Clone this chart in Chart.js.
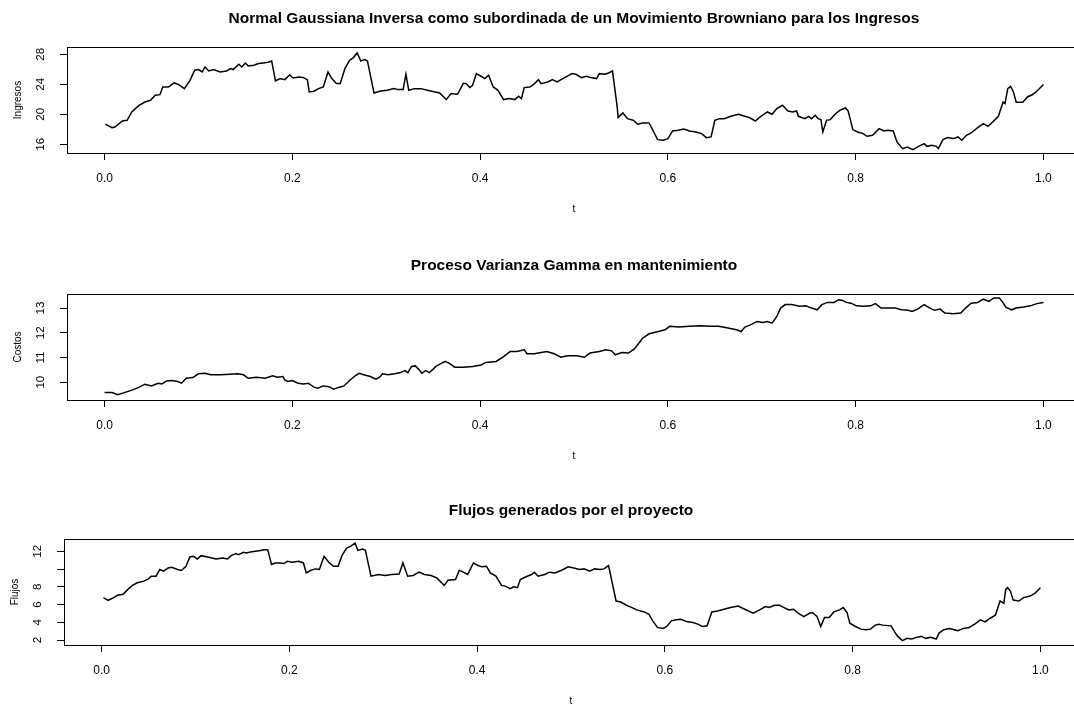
<!DOCTYPE html>
<html>
<head>
<meta charset="utf-8">
<script src="https://cdn.jsdelivr.net/npm/chart.js@4.4.1/dist/chart.umd.min.js"></script>
<style>
  html, body { margin: 0; padding: 0; background: #fff; }
  body { width: 1074px; height: 706px; overflow: hidden; position: relative; }
  canvas { position: absolute; }
</style>
</head>
<body>
<canvas id="ingresosChart" width="1090" height="246" style="left:0;top:0"></canvas>
<canvas id="costosChart" width="1090" height="246" style="left:0;top:247px"></canvas>
<canvas id="flujosChart" width="1090" height="246" style="left:-3px;top:492px"></canvas>
<script>
// eje t compartido
const xTicks = [0, 0.2, 0.4, 0.6, 0.8, 1.0];
const xTickLabels = ['0.0', '0.2', '0.4', '0.6', '0.8', '1.0'];

// Ingresos
const tIngresos = [
  0.001, 0.008, 0.011, 0.019, 0.024, 0.029, 0.036, 0.043, 0.049, 0.054,
  0.059, 0.062, 0.068, 0.074, 0.079, 0.085, 0.091, 0.096, 0.100, 0.104,
  0.107, 0.111, 0.116, 0.123, 0.130, 0.134, 0.137, 0.143, 0.146, 0.150,
  0.153, 0.159, 0.164, 0.169, 0.174, 0.178, 0.182, 0.187, 0.192, 0.197,
  0.201, 0.207, 0.212, 0.216, 0.218, 0.223, 0.228, 0.233, 0.238, 0.242,
  0.247, 0.251, 0.256, 0.261, 0.265, 0.269, 0.273, 0.277, 0.280, 0.287,
  0.294, 0.301, 0.308, 0.313, 0.318, 0.321, 0.324, 0.330, 0.337, 0.344,
  0.352, 0.357, 0.364, 0.369, 0.376, 0.382, 0.385, 0.389, 0.392, 0.396,
  0.401, 0.405, 0.409, 0.414, 0.419, 0.425, 0.431, 0.437, 0.441, 0.444,
  0.447, 0.453, 0.458, 0.462, 0.465, 0.472, 0.477, 0.482, 0.490, 0.498,
  0.502, 0.508, 0.513, 0.518, 0.524, 0.527, 0.533, 0.537, 0.541, 0.546,
  0.547, 0.552, 0.557, 0.563, 0.568, 0.573, 0.580, 0.584, 0.589, 0.595,
  0.600, 0.605, 0.611, 0.617, 0.623, 0.630, 0.636, 0.641, 0.646, 0.650,
  0.655, 0.660, 0.667, 0.675, 0.682, 0.687, 0.693, 0.699, 0.706, 0.711,
  0.716, 0.722, 0.728, 0.733, 0.737, 0.739, 0.746, 0.750, 0.753, 0.757,
  0.760, 0.763, 0.765, 0.769, 0.773, 0.778, 0.783, 0.789, 0.792, 0.797,
  0.802, 0.808, 0.812, 0.818, 0.825, 0.830, 0.834, 0.840, 0.844, 0.850,
  0.855, 0.861, 0.867, 0.873, 0.876, 0.881, 0.886, 0.888, 0.893, 0.898,
  0.904, 0.909, 0.913, 0.918, 0.923, 0.930, 0.936, 0.941, 0.946, 0.952,
  0.957, 0.959, 0.962, 0.965, 0.968, 0.971, 0.978, 0.983, 0.989, 0.994,
  1.000,
];
const ingresos = [
  18.67, 18.22, 18.31, 19.11, 19.20, 20.31, 21.11, 21.64, 21.87, 22.53,
  22.62, 23.64, 23.64, 24.18, 23.96, 23.42, 24.53, 25.87, 25.96, 25.64,
  26.31, 25.78, 25.96, 25.64, 25.78, 26.09, 25.96, 26.67, 26.31, 26.84,
  26.44, 26.53, 26.76, 26.84, 26.93, 27.11, 24.44, 24.76, 24.62, 25.24,
  24.84, 24.98, 24.89, 24.62, 22.98, 23.07, 23.42, 23.64, 25.64, 24.76,
  24.09, 24.09, 26.09, 27.20, 27.56, 28.18, 27.11, 27.29, 27.11, 22.84,
  23.11, 23.20, 23.42, 23.29, 23.30, 25.33, 23.20, 23.42, 23.42, 23.20,
  22.98, 22.84, 21.96, 22.76, 22.67, 24.09, 24.09, 23.56, 23.87, 25.42,
  25.07, 24.76, 25.20, 23.64, 23.20, 21.96, 22.09, 21.96, 22.40, 22.09,
  23.56, 23.64, 24.09, 24.62, 24.09, 24.31, 24.62, 24.31, 24.89, 25.42,
  25.33, 24.89, 25.07, 24.89, 24.76, 25.42, 25.33, 25.51, 25.78, 20.98,
  19.56, 20.18, 19.42, 19.20, 18.67, 18.84, 18.84, 17.87, 16.62, 16.53,
  16.76, 17.78, 17.87, 18.04, 17.78, 17.64, 17.42, 16.89, 16.98, 19.20,
  19.42, 19.42, 19.73, 20.00, 19.73, 19.56, 19.11, 19.73, 20.31, 20.00,
  20.76, 21.20, 20.44, 20.31, 20.44, 19.73, 19.42, 19.73, 19.42, 19.87,
  19.42, 19.29, 17.64, 19.20, 19.29, 20.00, 20.53, 20.84, 20.44, 17.96,
  17.64, 17.42, 17.07, 17.20, 18.09, 17.78, 17.87, 17.78, 16.31, 15.42,
  15.64, 15.29, 15.73, 16.09, 15.73, 15.87, 15.73, 15.42, 16.62, 16.89,
  16.76, 16.98, 16.53, 17.20, 17.51, 18.22, 18.76, 18.40, 18.98, 19.73,
  21.64, 21.42, 23.42, 23.73, 22.98, 21.60, 21.60, 22.31, 22.67, 23.20,
  23.96,
];
const ingresosTicks = [16, 20, 24, 28];
const ingresosTickLabels = ['16', '20', '24', '28'];

// Costos (Varianza Gamma)
const tCostos = [
  0.000, 0.008, 0.014, 0.021, 0.030, 0.037, 0.043, 0.050, 0.057, 0.061,
  0.066, 0.072, 0.078, 0.082, 0.087, 0.094, 0.100, 0.107, 0.113, 0.124,
  0.133, 0.142, 0.148, 0.153, 0.162, 0.171, 0.179, 0.184, 0.190, 0.192,
  0.195, 0.200, 0.206, 0.212, 0.217, 0.223, 0.227, 0.233, 0.239, 0.244,
  0.250, 0.255, 0.261, 0.267, 0.271, 0.276, 0.283, 0.289, 0.293, 0.296,
  0.302, 0.309, 0.315, 0.320, 0.323, 0.327, 0.331, 0.335, 0.338, 0.342,
  0.346, 0.353, 0.359, 0.363, 0.368, 0.373, 0.382, 0.392, 0.401, 0.406,
  0.417, 0.425, 0.432, 0.439, 0.447, 0.450, 0.458, 0.462, 0.471, 0.479,
  0.486, 0.493, 0.503, 0.511, 0.517, 0.527, 0.534, 0.540, 0.544, 0.551,
  0.558, 0.564, 0.569, 0.573, 0.580, 0.590, 0.597, 0.602, 0.612, 0.623,
  0.634, 0.645, 0.654, 0.664, 0.673, 0.678, 0.682, 0.688, 0.695, 0.701,
  0.706, 0.711, 0.716, 0.720, 0.725, 0.732, 0.740, 0.747, 0.753, 0.759,
  0.764, 0.770, 0.777, 0.782, 0.786, 0.790, 0.795, 0.801, 0.808, 0.816,
  0.821, 0.827, 0.834, 0.842, 0.849, 0.856, 0.860, 0.866, 0.873, 0.879,
  0.884, 0.890, 0.895, 0.904, 0.912, 0.917, 0.923, 0.930, 0.936, 0.942,
  0.947, 0.953, 0.956, 0.960, 0.966, 0.971, 0.979, 0.986, 0.993, 1.000,
];
const costos = [
  9.58, 9.58, 9.49, 9.58, 9.69, 9.80, 9.92, 9.85, 9.96, 9.93,
  10.05, 10.07, 10.03, 9.96, 10.16, 10.19, 10.34, 10.36, 10.30, 10.30,
  10.32, 10.34, 10.30, 10.16, 10.20, 10.16, 10.26, 10.20, 10.23, 10.09,
  10.03, 10.07, 9.96, 9.93, 9.96, 9.80, 9.76, 9.85, 9.82, 9.72,
  9.80, 9.85, 10.07, 10.26, 10.36, 10.30, 10.23, 10.12, 10.20, 10.34,
  10.30, 10.34, 10.39, 10.47, 10.39, 10.64, 10.66, 10.50, 10.36, 10.47,
  10.39, 10.64, 10.77, 10.84, 10.74, 10.61, 10.61, 10.64, 10.70, 10.80,
  10.84, 11.04, 11.24, 11.24, 11.31, 11.15, 11.15, 11.18, 11.24, 11.15,
  11.01, 11.07, 11.07, 11.01, 11.18, 11.24, 11.31, 11.27, 11.11, 11.20,
  11.18, 11.34, 11.58, 11.78, 11.96, 12.05, 12.12, 12.26, 12.23, 12.26,
  12.28, 12.26, 12.26, 12.19, 12.12, 12.05, 12.23, 12.32, 12.46, 12.42,
  12.46, 12.39, 12.66, 13.00, 13.14, 13.14, 13.07, 13.09, 13.00, 12.93,
  13.14, 13.23, 13.23, 13.34, 13.31, 13.23, 13.20, 13.09, 13.07, 13.09,
  13.18, 13.00, 13.00, 13.00, 12.93, 12.91, 12.86, 12.96, 13.14, 13.00,
  12.91, 12.96, 12.80, 12.77, 12.80, 13.00, 13.20, 13.23, 13.36, 13.27,
  13.41, 13.41, 13.27, 13.04, 12.93, 13.00, 13.04, 13.09, 13.18, 13.23,
];
const costosTicks = [10, 11, 12, 13];
const costosTickLabels = ['10', '11', '12', '13'];

// Flujos
const tFlujos = [
  0.002, 0.007, 0.013, 0.017, 0.023, 0.028, 0.033, 0.038, 0.045, 0.050,
  0.053, 0.058, 0.062, 0.066, 0.071, 0.075, 0.081, 0.085, 0.090, 0.094,
  0.098, 0.102, 0.106, 0.113, 0.122, 0.129, 0.134, 0.138, 0.143, 0.146,
  0.151, 0.154, 0.160, 0.168, 0.173, 0.177, 0.181, 0.185, 0.190, 0.194,
  0.198, 0.203, 0.210, 0.215, 0.218, 0.223, 0.228, 0.232, 0.237, 0.242,
  0.247, 0.252, 0.256, 0.261, 0.265, 0.270, 0.273, 0.278, 0.281, 0.287,
  0.295, 0.302, 0.309, 0.317, 0.321, 0.326, 0.332, 0.338, 0.344, 0.351,
  0.357, 0.365, 0.369, 0.377, 0.381, 0.387, 0.390, 0.396, 0.401, 0.405,
  0.410, 0.414, 0.420, 0.426, 0.430, 0.435, 0.439, 0.443, 0.446, 0.452,
  0.458, 0.461, 0.465, 0.472, 0.477, 0.483, 0.490, 0.497, 0.503, 0.509,
  0.514, 0.520, 0.525, 0.531, 0.535, 0.540, 0.548, 0.553, 0.559, 0.565,
  0.570, 0.578, 0.583, 0.587, 0.592, 0.598, 0.602, 0.607, 0.612, 0.617,
  0.624, 0.630, 0.635, 0.640, 0.645, 0.650, 0.656, 0.663, 0.670, 0.678,
  0.685, 0.694, 0.701, 0.707, 0.711, 0.717, 0.722, 0.727, 0.732, 0.737,
  0.742, 0.748, 0.754, 0.757, 0.762, 0.766, 0.770, 0.775, 0.780, 0.786,
  0.790, 0.794, 0.797, 0.803, 0.809, 0.814, 0.819, 0.824, 0.828, 0.832,
  0.841, 0.845, 0.848, 0.853, 0.858, 0.863, 0.868, 0.873, 0.878, 0.883,
  0.889, 0.892, 0.897, 0.903, 0.908, 0.912, 0.918, 0.924, 0.930, 0.936,
  0.941, 0.946, 0.952, 0.957, 0.961, 0.963, 0.965, 0.968, 0.971, 0.977,
  0.982, 0.989, 0.994, 1.000,
];
const flujos = [
  6.78, 6.48, 6.78, 7.04, 7.15, 7.71, 8.16, 8.46, 8.64, 8.90,
  9.20, 9.20, 9.95, 9.76, 10.13, 10.21, 9.95, 9.84, 10.32, 11.37,
  11.44, 11.14, 11.51, 11.37, 11.14, 11.25, 11.14, 11.51, 11.74, 11.63,
  11.89, 11.81, 11.96, 12.07, 12.19, 12.19, 10.51, 10.69, 10.69, 10.62,
  10.88, 10.77, 10.88, 10.69, 9.57, 9.87, 10.02, 9.95, 11.44, 10.77,
  10.32, 10.32, 11.51, 12.37, 12.56, 12.93, 12.11, 12.26, 12.11, 9.20,
  9.39, 9.28, 9.39, 9.45, 10.70, 9.20, 9.28, 9.65, 9.39, 9.28,
  9.01, 8.16, 8.75, 8.83, 9.87, 9.57, 9.39, 10.69, 10.40, 10.25,
  10.32, 9.57, 9.20, 8.16, 8.08, 7.78, 8.01, 7.90, 8.83, 9.13,
  9.39, 9.65, 9.20, 9.39, 9.65, 9.57, 9.87, 10.25, 10.13, 9.95,
  10.02, 9.76, 10.02, 9.95, 10.02, 10.40, 6.40, 6.29, 5.92, 5.66,
  5.40, 5.17, 4.91, 4.16, 3.42, 3.31, 3.53, 4.16, 4.28, 4.35,
  4.05, 3.98, 3.79, 3.53, 3.60, 5.17, 5.28, 5.47, 5.66, 5.84,
  5.47, 5.02, 5.40, 5.77, 5.66, 5.92, 5.92, 5.66, 5.40, 5.47,
  5.02, 4.65, 5.02, 5.10, 4.65, 3.53, 4.54, 4.54, 5.17, 5.40,
  5.66, 5.10, 3.90, 3.53, 3.23, 3.16, 3.23, 3.68, 3.79, 3.68,
  3.60, 2.86, 2.41, 1.93, 2.19, 2.11, 2.30, 2.41, 2.19, 2.30,
  2.11, 2.78, 3.16, 3.31, 3.16, 3.04, 3.31, 3.42, 3.79, 4.28,
  4.05, 4.43, 4.80, 6.40, 6.14, 7.71, 7.90, 7.52, 6.51, 6.40,
  6.78, 6.96, 7.26, 7.90,
];
const flujosTicks = [2, 4, 6, 8, 10, 12];
const flujosTickLabels = ['2', '4', '6', '8', '', '12'];

Chart.defaults.font.family = "'Liberation Sans', Arial, Helvetica, sans-serif";
Chart.defaults.color = '#000';
Chart.defaults.borderColor = '#000';

// Caja alrededor del area de trazado (estilo R)
const plotBox = {
  id: 'plotBox',
  afterDraw(chart) {
    const {
      ctx,
      chartArea: { left, top, width, height },
    } = chart;
    ctx.save();
    ctx.strokeStyle = '#000';
    ctx.lineWidth = 1;
    ctx.strokeRect(left + 0.5, top + 0.5, width, height);
    ctx.restore();
  },
};

const makePanel = (canvasId, titleText, yTitle, tValues, yValues, yMin, yMax, yTicks, yTickLabels) => {
  const points = tValues.map((t, i) => ({ x: t, y: yValues[i] }));

  return new Chart(document.getElementById(canvasId), {
    type: 'line',
    data: {
      datasets: [{
        data: points,
        borderColor: '#000',
        borderWidth: 1.5,
        pointRadius: 0,
        tension: 0,
        fill: false,
      }],
    },
    options: {
      responsive: false,
      animation: false,
      layout: { padding: { left: 0, right: 9, top: 0, bottom: 0 } },
      plugins: {
        legend: { display: false },
        tooltip: { enabled: false },
        title: {
          display: true,
          text: titleText,
          fullSize: false,
          color: '#000',
          font: { size: 15.5, weight: 'bold' },
          padding: { top: 9, bottom: 19.4 },
        },
      },
      scales: {
        x: {
          type: 'linear',
          min: -0.04,
          max: 1.04,
          afterBuildTicks: (axis) => { axis.ticks = xTicks.map((v) => ({ value: v })); },
          afterFit: (axis) => { axis.height = 93; },
          grid: { drawOnChartArea: false, drawTicks: true, tickLength: 7, color: '#000' },
          border: { display: true, color: '#000', width: 1 },
          ticks: {
            autoSkip: false,
            maxRotation: 0,
            padding: 11.8,
            font: { size: 12 },
            callback: (v, i) => xTickLabels[i],
          },
          title: { display: true, text: 't', font: { size: 10 }, padding: { top: 0, bottom: 31 } },
        },
        y: {
          min: yMin,
          max: yMax,
          afterBuildTicks: (axis) => { axis.ticks = yTicks.map((v) => ({ value: v })); },
          afterFit: (axis) => { axis.width = 67; },
          grid: { drawOnChartArea: false, drawTicks: true, tickLength: 7, color: '#000' },
          border: { display: true, color: '#000', width: 1 },
          ticks: {
            autoSkip: false,
            minRotation: 90,
            maxRotation: 90,
            crossAlign: 'center',
            padding: 13,
            font: { size: 11.5 },
            callback: (v, i) => yTickLabels[i],
          },
          title: { display: true, text: yTitle, font: { size: 10 }, padding: { top: 12, bottom: 0 } },
        },
      },
    },
    plugins: [plotBox],
  });
};

makePanel('ingresosChart',
  'Normal Gaussiana Inversa como subordinada de un Movimiento Browniano para los Ingresos',
  'Ingresos', tIngresos, ingresos, 14.84, 28.97, ingresosTicks, ingresosTickLabels);

makePanel('costosChart',
  'Proceso Varianza Gamma en mantenimiento',
  'Costos', tCostos, costos, 9.28, 13.57, costosTicks, costosTickLabels);

makePanel('flujosChart',
  'Flujos generados por el proyecto',
  'Flujos', tFlujos, flujos, 1.44, 13.39, flujosTicks, flujosTickLabels);
</script>
</body>
</html>
